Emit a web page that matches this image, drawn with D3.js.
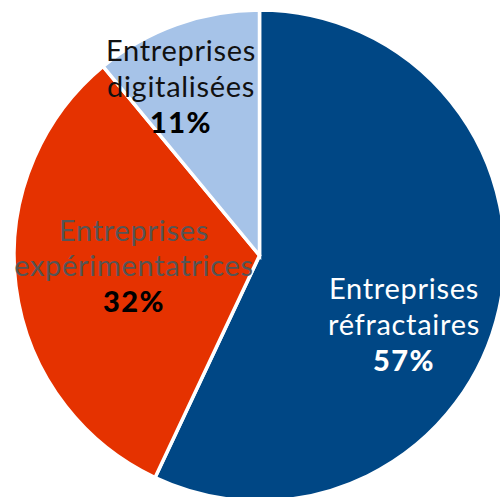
<!DOCTYPE html>
<html>
<head>
<meta charset="utf-8">
<script src="https://cdn.jsdelivr.net/npm/d3@7"></script>
<style>
  html, body { margin: 0; padding: 0; background: #fff; overflow: hidden; }
  svg { display: block; }
</style>
</head>
<body>
<svg id="chart" width="500" height="497"></svg>
<script>
// ---- data ----
const categories = ["Entreprises réfractaires", "Entreprises expérimentatrices", "Entreprises digitalisées"];
const labelLine1 = ["Entreprises", "Entreprises", "Entreprises"];
const labelLine2 = ["réfractaires", "expérimentatrices", "digitalisées"];
const values = [57, 32, 11];
const percentLabels = ["57%", "32%", "11%"];

// ---- layout / style ----
const width = 500, height = 497;
const cx = 259.5, cy = 255.5, radius = 245.5;
const colors = ["#004785", "#e53200", "#a6c3e8"];
const nameColors = ["#ffffff", "#555555", "#111111"];
const pctColors = ["#ffffff", "#000000", "#000000"];
// label anchor (center x, first baseline y)
const labelPos = [[404, 299], [134, 240.5], [181, 61]];
const lineGap = 35.8;

const svg = d3.select("#chart");
const g = svg.append("g").attr("transform", `translate(${cx},${cy})`);

const pie = d3.pie().sort(null).value(d => d)(values);
const arc = d3.arc().innerRadius(0).outerRadius(radius);

g.selectAll("path.slice")
  .data(pie)
  .join("path")
  .attr("class", "slice")
  .attr("d", arc)
  .attr("fill", (d, i) => colors[i])
  .attr("stroke", "#ffffff")
  .attr("stroke-width", 3.5)
  .attr("stroke-linejoin", "miter");

const labels = svg.selectAll("text.lbl")
  .data(pie)
  .join("text")
  .attr("class", "lbl")
  .attr("text-anchor", "middle")
  .attr("font-family", "Lato, 'Noto Sans', sans-serif")
  .attr("x", (d, i) => labelPos[i][0])
  .attr("y", (d, i) => labelPos[i][1]);

labels.append("tspan")
  .attr("x", (d, i) => labelPos[i][0])
  .attr("font-size", 29)
  .attr("letter-spacing", 0.7)
  .attr("fill", (d, i) => nameColors[i])
  .text((d, i) => labelLine1[i]);
labels.append("tspan")
  .attr("x", (d, i) => labelPos[i][0])
  .attr("dy", lineGap)
  .attr("font-size", 29)
  .attr("letter-spacing", 0.7)
  .attr("fill", (d, i) => nameColors[i])
  .text((d, i) => labelLine2[i]);
labels.append("tspan")
  .attr("x", (d, i) => labelPos[i][0])
  .attr("dy", lineGap)
  .attr("font-size", 29)
  .attr("letter-spacing", 1.5)
  .attr("font-weight", 900)
  .attr("fill", (d, i) => pctColors[i])
  .text((d, i) => percentLabels[i]);
</script>
</body>
</html>
